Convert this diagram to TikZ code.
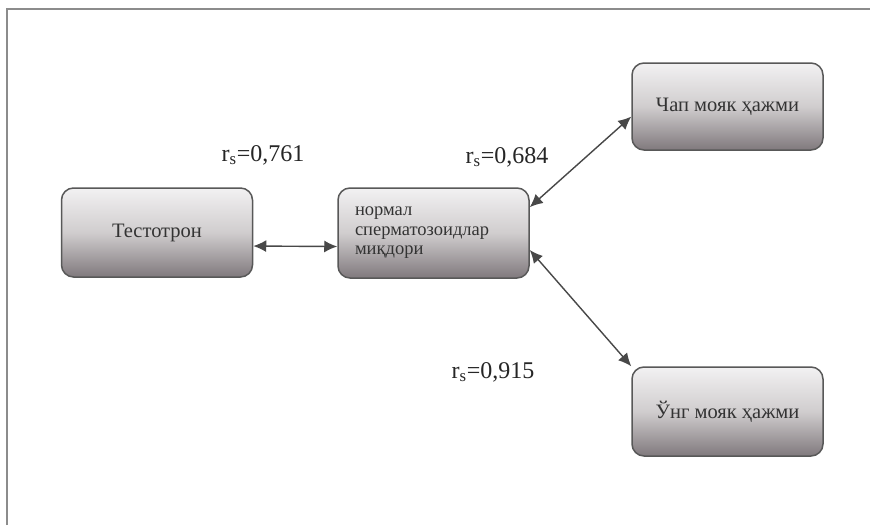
\documentclass[tikz,border=0pt]{standalone}
\usepackage{fontspec}
\setmainfont{Liberation Serif}
\usetikzlibrary{arrows.meta}

\definecolor{boxtop}{RGB}{242,241,242}
\definecolor{boxmid}{RGB}{208,205,206}
\definecolor{boxbot}{RGB}{128,121,125}
\definecolor{boxline}{RGB}{88,88,88}
\definecolor{arrline}{RGB}{72,72,72}
\definecolor{frameline}{RGB}{140,140,140}

\tikzset{
  box/.style={draw=boxline, line width=1.5pt, rounded corners=12pt,
    top color=boxtop, bottom color=boxbot, middle color=boxmid,
    minimum width=191pt, minimum height=89pt, inner sep=0pt,
    text=black!80, font=\fontsize{20.5}{19}\selectfont},
  link/.style={draw=arrline, line width=1.4pt,
    {Latex[length=13pt,width=12pt]}-{Latex[length=13pt,width=12pt]}},
  coef/.style={text=black!85, font=\fontsize{24}{28}\selectfont}
}

\begin{document}
\begin{tikzpicture}[x=1pt,y=-1pt]
    \useasboundingbox[fill=white] (0,0) rectangle (870,525);
    \draw[frameline, line width=1.2pt] (7,525) -- (7,9) -- (870,9);

    \node [box] (test) at (157,232.5) {Тестотрон};
    \node [box, text width=157pt, inner xsep=17pt, minimum height=90pt, align=left,
        font=\fontsize{18.5}{19.5}\selectfont] (mid) at (433.5,233)
        {нормал\\сперматозоидлар\\миқдори};
    \node [box, minimum height=87pt] (chap) at (727.5,106.5) {\raisebox{-4pt}{Чап мояк ҳажми}};
    \node [box] (ung) at (727.5,411.5) {Ўнг мояк ҳажми};

    \node [coef] (r1) at (263,155) {r\textsubscript{s}=0,761};
    \node [coef] (r2) at (507,157) {r\textsubscript{s}=0,684};
    \node [coef] (r3) at (493,372) {r\textsubscript{s}=0,915};

    \path [link] (test.-8) -- (mid.188);
    \path [link] (mid.15) -- (chap.186);
    \path [link] (mid.-10) -- (ung.north west);
\end{tikzpicture}
\end{document}
